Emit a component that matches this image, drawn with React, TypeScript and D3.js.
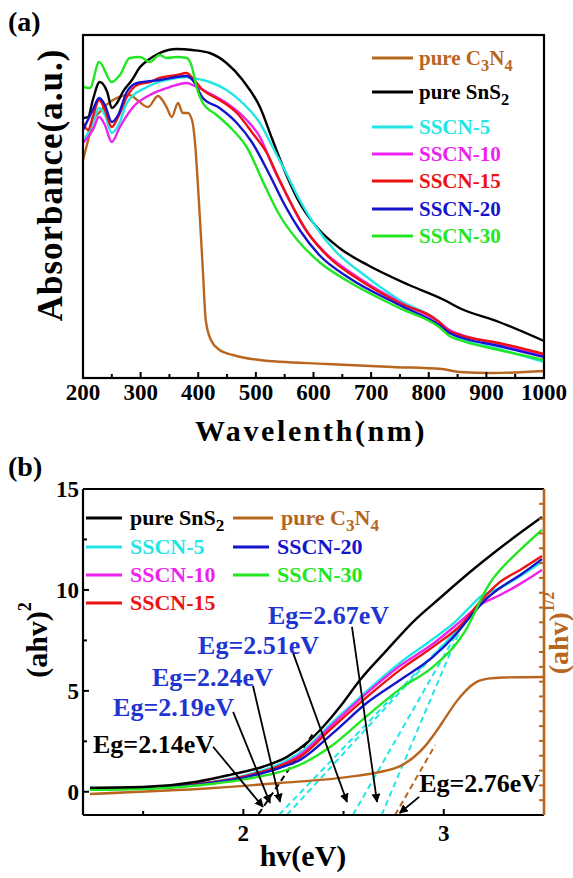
import React from "react";
import * as d3 from "d3";

type Pt = [number, number];

const W = 573;
const H = 878;
const FONT = "'Liberation Serif','Times New Roman',Times,serif";

// ---------- Panel (a): UV-vis absorbance, [wavelength nm, absorbance a.u.] ----------
const wavelengthTicks = [200, 300, 400, 500, 600, 700, 800, 900, 1000];
const wavelengthMinor = [250, 350, 450, 550, 650, 750, 850, 950];

const absC3N4: Pt[] = [[200,2.18],[209,2.38],[217,2.56],[229,2.66],[252,2.78],[281,2.83],[294,2.78],[313,2.71],[330,2.82],[345,2.71],[354,2.61],[365,2.75],[373,2.65],[382,2.65],[390,2.56],[394,2.38],[401,1.78],[408,1.08],[413,0.58],[422,0.38],[437,0.28],[460,0.23],[506,0.18],[623,0.14],[737,0.11],[823,0.09],[853,0.06],[910,0.05],[1000,0.07]];
const absSnS2: Pt[] = [[200,2.6],[209,2.61],[217,2.78],[229,2.96],[242,2.86],[250,2.7],[259,2.75],[269,2.86],[285,2.98],[299,3.11],[313,3.18],[333,3.25],[363,3.29],[390,3.28],[420,3.25],[449,3.15],[477,2.98],[507,2.71],[529,2.38],[553,2.03],[576,1.75],[607,1.5],[645,1.3],[697,1.12],[766,0.93],[827,0.78],[853,0.7],[922,0.56],[1000,0.37]];
const absSSCN5: Pt[] = [[200,2.36],[217,2.55],[228,2.7],[238,2.63],[250,2.45],[264,2.56],[276,2.75],[311,2.91],[345,2.98],[380,3.01],[390,3.0],[420,2.96],[449,2.88],[477,2.75],[507,2.55],[529,2.31],[550,2.08],[576,1.78],[602,1.53],[636,1.28],[688,1.03],[749,0.78],[818,0.56],[836,0.46],[853,0.4],[922,0.29],[1000,0.16]];
const absSSCN10: Pt[] = [[200,2.35],[217,2.48],[228,2.61],[238,2.53],[250,2.36],[264,2.51],[287,2.71],[316,2.83],[351,2.91],[380,2.95],[390,2.93],[415,2.86],[449,2.75],[484,2.58],[507,2.41],[532,2.08],[558,1.78],[584,1.5],[619,1.26],[671,1.03],[749,0.76],[818,0.56],[836,0.48],[853,0.44],[922,0.34],[1000,0.23]];
const absSSCN15: Pt[] = [[200,2.55],[209,2.48],[217,2.61],[228,2.78],[238,2.68],[250,2.51],[261,2.61],[276,2.81],[294,2.93],[316,2.96],[333,3.0],[363,3.03],[380,3.05],[390,3.0],[408,2.88],[437,2.78],[467,2.65],[494,2.45],[519,2.25],[541,1.98],[567,1.68],[593,1.43],[628,1.2],[680,0.98],[749,0.75],[818,0.56],[832,0.48],[853,0.43],[922,0.35],[1000,0.24]];
const absSSCN20: Pt[] = [[200,2.48],[217,2.68],[228,2.8],[238,2.73],[250,2.56],[261,2.63],[276,2.86],[294,2.95],[333,2.98],[380,3.02],[390,2.98],[408,2.8],[437,2.7],[467,2.55],[494,2.35],[524,2.03],[550,1.73],[576,1.48],[610,1.23],[662,1.0],[749,0.73],[818,0.53],[836,0.45],[853,0.41],[922,0.32],[1000,0.21]];
const absSSCN30: Pt[] = [[200,2.91],[212,2.9],[228,3.16],[250,2.96],[264,3.03],[281,3.2],[299,3.21],[316,3.16],[333,3.23],[345,3.2],[363,3.21],[380,3.2],[389,3.11],[397,2.91],[408,2.75],[432,2.63],[460,2.48],[484,2.31],[515,1.93],[541,1.63],[572,1.38],[610,1.16],[662,0.96],[749,0.7],[818,0.51],[836,0.42],[853,0.38],[922,0.28],[1000,0.18]];

// ---------- Panel (b): Tauc plot, [hv eV, (ahv)^2] ; C3N4 on right axis [(ahv)^1/2] ----------
const energyTicks = [2, 3];
const energyMinor = [1.5, 2.5];
const ahv2Ticks = [0, 5, 10, 15];
const ahv2Minor = [2.5, 7.5, 12.5];
const ahvHalfTicks = d3.range(1, 22).map((v) => v / 10);

const taucSnS2: Pt[] = [[1.235,0.2],[1.519,0.25],[1.769,0.5],[1.934,0.84],[2.098,1.24],[2.218,1.73],[2.318,2.43],[2.398,3.22],[2.482,4.21],[2.582,5.54],[2.717,7.03],[2.847,8.42],[2.981,9.6],[3.131,10.89],[3.281,12.08],[3.49,13.61]];
const taucSSCN5: Pt[] = [[1.235,0.15],[1.519,0.2],[1.849,0.5],[2.018,0.84],[2.183,1.39],[2.283,1.93],[2.448,3.47],[2.617,5.0],[2.782,6.39],[2.946,7.57],[3.066,8.51],[3.131,9.16],[3.181,9.65],[3.281,10.1],[3.49,11.39]];
const taucSSCN10: Pt[] = [[1.235,0.15],[1.519,0.2],[1.849,0.47],[2.018,0.79],[2.183,1.29],[2.283,1.83],[2.448,3.37],[2.617,4.9],[2.782,6.24],[2.946,7.33],[3.081,8.42],[3.181,9.26],[3.281,9.75],[3.381,10.3],[3.49,10.99]];
const taucSSCN15: Pt[] = [[1.235,0.15],[1.519,0.2],[1.849,0.47],[2.018,0.79],[2.183,1.29],[2.283,1.73],[2.448,3.22],[2.617,4.7],[2.782,6.04],[2.946,7.18],[3.096,8.37],[3.181,9.41],[3.281,10.4],[3.381,10.99],[3.49,11.68]];
const taucSSCN20: Pt[] = [[1.235,0.12],[1.519,0.17],[1.849,0.45],[2.018,0.74],[2.183,1.19],[2.283,1.58],[2.448,2.92],[2.617,4.41],[2.782,5.54],[2.946,6.68],[3.066,7.87],[3.131,8.66],[3.206,9.5],[3.281,10.1],[3.381,10.74],[3.49,11.53]];
const taucSSCN30: Pt[] = [[1.235,0.1],[1.519,0.15],[1.849,0.4],[2.018,0.64],[2.183,0.99],[2.283,1.34],[2.448,2.33],[2.617,3.76],[2.782,5.1],[2.946,6.19],[3.066,7.38],[3.116,8.12],[3.156,8.91],[3.196,9.75],[3.241,10.5],[3.281,10.99],[3.381,11.98],[3.49,12.97]];
const taucC3N4: Pt[] = [[1.235,0.142],[1.849,0.182],[2.183,0.216],[2.517,0.256],[2.682,0.29],[2.782,0.33],[2.85,0.39],[2.91,0.47],[2.96,0.56],[3.01,0.66],[3.06,0.76],[3.11,0.84],[3.16,0.895],[3.22,0.92],[3.3,0.928],[3.5,0.931]];

// Band-gap annotations
const egLabels = ["Eg=2.14eV", "Eg=2.19eV", "Eg=2.24eV", "Eg=2.51eV", "Eg=2.67eV", "Eg=2.76eV"];
const egLabelPos: Pt[] = [[1.25,1.93],[1.35,3.76],[1.544,5.25],[1.774,6.83],[2.123,8.32],[2.877,0.0]];
const egArrowFrom: Pt[] = [[1.849,2.23],[1.949,3.96],[2.048,5.25],[2.248,6.88],[2.542,8.17],[2.877,-0.25]];
const egArrowTo: Pt[] = [[2.098,-0.75],[2.133,-0.55],[2.183,-0.5],[2.517,-0.5],[2.667,-0.5],[2.78,-1.05]];
const tangentFrom: Pt[] = [[2.076,-1.1],[2.178,-1.14],[2.218,-1.14],[2.547,-1.14],[2.69,-1.14]];
const tangentTo: Pt[] = [[2.35,2.92],[3.106,8.42],[3.121,8.61],[3.066,7.87],[3.081,8.02]];
const tangentC3N4: Pt[] = [[2.757, 0.0], [2.957, 0.472]];

// ---------- styles ----------
const C_BROWN = "#b8661f";
const C_BLACK = "#000000";
const C_CYAN = "#22e6e6";
const C_MAGENTA = "#ee22ee";
const C_RED = "#ee1111";
const C_BLUE = "#1414cc";
const C_GREEN = "#22e622";
const C_LABELBLUE = "#1f35d2";

type Part = [string, number];
const seriesA = [
  { parts: [["pure C", 0], ["3", 1], ["N", 0], ["4", 1]] as Part[], color: C_BROWN, data: absC3N4 },
  { parts: [["pure SnS", 0], ["2", 1]] as Part[], color: C_BLACK, data: absSnS2 },
  { parts: [["SSCN-5", 0]] as Part[], color: C_CYAN, data: absSSCN5 },
  { parts: [["SSCN-10", 0]] as Part[], color: C_MAGENTA, data: absSSCN10 },
  { parts: [["SSCN-15", 0]] as Part[], color: C_RED, data: absSSCN15 },
  { parts: [["SSCN-20", 0]] as Part[], color: C_BLUE, data: absSSCN20 },
  { parts: [["SSCN-30", 0]] as Part[], color: C_GREEN, data: absSSCN30 },
];
const legendRowsA = [58, 92, 127, 154, 181, 209, 236];

const seriesB = [
  { parts: [["SSCN-5", 0]] as Part[], color: C_CYAN, data: taucSSCN5, col: 0, row: 1 },
  { parts: [["SSCN-10", 0]] as Part[], color: C_MAGENTA, data: taucSSCN10, col: 0, row: 2 },
  { parts: [["SSCN-15", 0]] as Part[], color: C_RED, data: taucSSCN15, col: 0, row: 3 },
  { parts: [["SSCN-20", 0]] as Part[], color: C_BLUE, data: taucSSCN20, col: 1, row: 1 },
  { parts: [["SSCN-30", 0]] as Part[], color: C_GREEN, data: taucSSCN30, col: 1, row: 2 },
  { parts: [["pure SnS", 0], ["2", 1]] as Part[], color: C_BLACK, data: taucSnS2, col: 0, row: 0 },
];
const legendRowsB = [518, 547, 575, 603];

function Label({ parts, size }: { parts: Part[]; size: number }) {
  const out: React.ReactNode[] = [];
  let sub = 0;
  parts.forEach(([t, s], i) => {
    const dy = s === 1 && sub === 0 ? size * 0.28 : s === 0 && sub === 1 ? -size * 0.28 : 0;
    sub = s;
    out.push(
      <tspan key={i} dy={dy} fontSize={s ? size * 0.78 : size}>
        {t}
      </tspan>
    );
  });
  return <>{out}</>;
}

export default function App() {
  // panel a scales
  const xA = d3.scaleLinear().domain([200, 1000]).range([83, 544]);
  const yA = d3.scaleLinear().domain([0, 3.43]).range([378, 35]);
  // panel b scales
  const xB = d3.scaleLinear().domain([1.2, 3.5]).range([83, 544]);
  const yB = d3.scaleLinear().domain([-1.15, 15]).range([815, 489]);
  const yBR = d3.scaleLinear().domain([0, 2.2]).range([815, 489]);

  const lineA = d3.line<Pt>().x((d) => xA(d[0])).y((d) => yA(d[1])).curve(d3.curveMonotoneX);
  const lineB = d3.line<Pt>().x((d) => xB(d[0])).y((d) => yB(d[1])).curve(d3.curveMonotoneX);
  const lineBR = d3.line<Pt>().x((d) => xB(d[0])).y((d) => yBR(d[1])).curve(d3.curveMonotoneX);

  const [aL, aR] = xA.range();
  const [aB, aT] = yA.range();
  const [bL, bR] = xB.range();
  const [bB, bT] = yB.range();

  return (
    <svg
      width={W}
      height={H}
      viewBox={`0 0 ${W} ${H}`}
      style={{ position: "absolute", left: 0, top: 0, background: "#fff" }}
      fontFamily={FONT}
      fontWeight="bold"
    >
      <defs>
        <marker id="arr" viewBox="0 0 10 10" refX="9" refY="5" markerWidth="9" markerHeight="9" markerUnits="userSpaceOnUse" orient="auto">
          <path d="M0,0 L10,5 L0,10 z" fill="#000" />
        </marker>
      </defs>
      <rect x={0} y={0} width={W} height={H} fill="#fff" />

      {/* ================= Panel (a) ================= */}
      <text x={8} y={31} fontSize={28}>(a)</text>
      {seriesA.map((s, i) => (
        <path key={i} d={lineA(s.data) || ""} fill="none" stroke={s.color} strokeWidth={2.4} strokeLinejoin="round" />
      ))}
      <rect x={aL} y={aT} width={aR - aL} height={aB - aT} fill="none" stroke="#000" strokeWidth={2.2} />
      {wavelengthTicks.map((t) => (
        <g key={t}>
          <line x1={xA(t)} x2={xA(t)} y1={aB} y2={aB - 6} stroke="#000" strokeWidth={2} />
          <text x={xA(t)} y={400} fontSize={23} textAnchor="middle">{t}</text>
        </g>
      ))}
      {wavelengthMinor.map((t) => (
        <line key={t} x1={xA(t)} x2={xA(t)} y1={aB} y2={aB - 4} stroke="#000" strokeWidth={2} />
      ))}
      <text x={311} y={441} fontSize={30} textAnchor="middle" letterSpacing={2.6}>Wavelenth(nm)</text>
      <text transform="translate(50,185) rotate(-90)" fontSize={35} textAnchor="middle" dominantBaseline="central" letterSpacing={1}>
        Absorbance(a.u.)
      </text>
      {seriesA.map((s, i) => (
        <g key={i}>
          <line x1={372} x2={413} y1={legendRowsA[i]} y2={legendRowsA[i]} stroke={s.color} strokeWidth={3} />
          <text x={419} y={legendRowsA[i] + 7} fill={s.color} fontSize={21}>
            <Label parts={s.parts} size={21} />
          </text>
        </g>
      ))}

      {/* ================= Panel (b) ================= */}
      <text x={8} y={476} fontSize={28}>(b)</text>

      {/* tangent (dashed) lines */}
      {tangentFrom.map((p, i) => (
        <line key={i} x1={xB(p[0])} y1={yB(p[1])} x2={xB(tangentTo[i][0])} y2={yB(tangentTo[i][1])}
          stroke={i === 0 ? C_BLACK : C_CYAN} strokeWidth={2} strokeDasharray="6,4" />
      ))}
      <line x1={xB(tangentC3N4[0][0])} y1={yBR(tangentC3N4[0][1])} x2={xB(tangentC3N4[1][0])} y2={yBR(tangentC3N4[1][1])}
        stroke={C_BROWN} strokeWidth={2} strokeDasharray="6,4" />

      <path d={lineBR(taucC3N4) || ""} fill="none" stroke={C_BROWN} strokeWidth={2.4} />
      {seriesB.map((s, i) => (
        <path key={i} d={lineB(s.data) || ""} fill="none" stroke={s.color} strokeWidth={2.4} strokeLinejoin="round" />
      ))}

      {/* arrows */}
      {egArrowFrom.map((p, i) => (
        <line key={i} x1={xB(p[0])} y1={yB(p[1])} x2={xB(egArrowTo[i][0])} y2={yB(egArrowTo[i][1])}
          stroke="#000" strokeWidth={1.8} markerEnd="url(#arr)" />
      ))}
      {egLabels.map((t, i) => (
        <text key={t} x={xB(egLabelPos[i][0])} y={yB(egLabelPos[i][1])} fontSize={26}
          fill={i === 0 || i === 5 ? C_BLACK : C_LABELBLUE}>{t}</text>
      ))}

      {/* frame */}
      <line x1={bL} x2={bR} y1={bT} y2={bT} stroke="#000" strokeWidth={2.2} />
      <line x1={bL} x2={bR} y1={bB} y2={bB} stroke="#000" strokeWidth={2.2} />
      <line x1={bL} x2={bL} y1={bT} y2={bB} stroke="#000" strokeWidth={2.2} />
      <line x1={bR} x2={bR} y1={bT} y2={bB} stroke={C_BROWN} strokeWidth={2.6} />

      {energyTicks.map((t) => (
        <g key={t}>
          <line x1={xB(t)} x2={xB(t)} y1={bB} y2={bB - 6} stroke="#000" strokeWidth={2} />
          <text x={xB(t)} y={841} fontSize={23} textAnchor="middle">{t}</text>
        </g>
      ))}
      {energyMinor.map((t) => (
        <line key={t} x1={xB(t)} x2={xB(t)} y1={bB} y2={bB - 4} stroke="#000" strokeWidth={2} />
      ))}
      {ahv2Ticks.map((t) => (
        <g key={t}>
          <line x1={bL} x2={bL + 6} y1={yB(t)} y2={yB(t)} stroke="#000" strokeWidth={2} />
          <text x={79} y={yB(t) + 8} fontSize={23} textAnchor="end">{t}</text>
        </g>
      ))}
      {ahv2Minor.map((t) => (
        <line key={t} x1={bL} x2={bL + 4} y1={yB(t)} y2={yB(t)} stroke="#000" strokeWidth={2} />
      ))}
      {ahvHalfTicks.map((t) => (
        <line key={t} x1={bR} x2={bR - 5} y1={yBR(t)} y2={yBR(t)} stroke={C_BROWN} strokeWidth={2} />
      ))}

      <text x={303} y={866} fontSize={30} textAnchor="middle">hv(eV)</text>
      <text transform="translate(36,640) rotate(-90)" fontSize={30} textAnchor="middle" dominantBaseline="central">
        (ahv)<tspan dy={-11} fontSize={18}>2</tspan>
      </text>
      <text transform="translate(558,633) rotate(-90)" fontSize={28} textAnchor="middle" dominantBaseline="central" fill={C_BROWN}>
        (ahv)<tspan dy={-10} fontSize={16}>1/2</tspan>
      </text>

      {/* legend (b) */}
      {seriesB.map((s, i) => {
        const lx = s.col === 0 ? 86 : 233;
        const y = legendRowsB[s.row];
        return (
          <g key={i}>
            <line x1={lx} x2={lx + 36} y1={y} y2={y} stroke={s.color} strokeWidth={3} />
            <text x={lx + 44} y={y + 7} fontSize={22} fill={s.color}>
              <Label parts={s.parts} size={22} />
            </text>
          </g>
        );
      })}
      <g>
        <line x1={233} x2={273} y1={legendRowsB[0]} y2={legendRowsB[0]} stroke={C_BROWN} strokeWidth={3} />
        <text x={281} y={legendRowsB[0] + 7} fontSize={22} fill={C_BROWN}>
          <Label parts={[["pure C", 0], ["3", 1], ["N", 0], ["4", 1]]} size={22} />
        </text>
      </g>
    </svg>
  );
}
